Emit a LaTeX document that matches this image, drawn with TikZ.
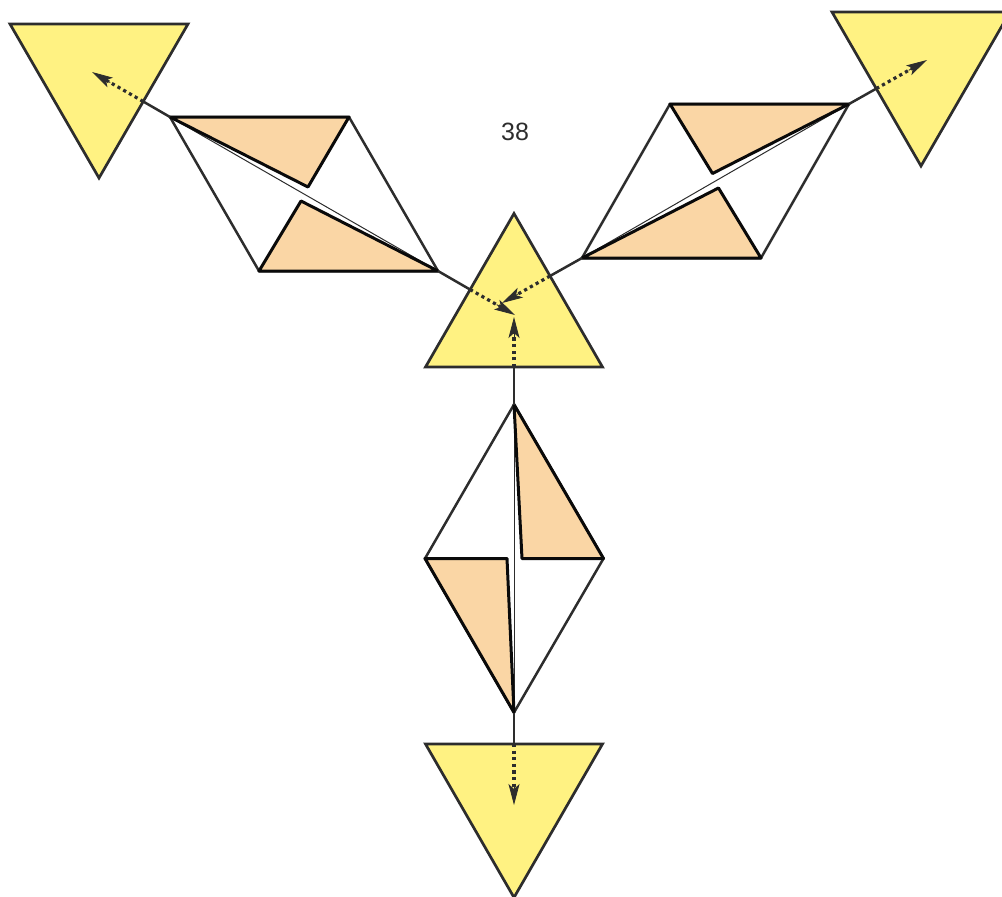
\documentclass[tikz,border=0pt]{standalone}
\usepackage{fontspec}
\setmainfont{Liberation Sans}
\usetikzlibrary{arrows.meta,calc}
\definecolor{triYellow}{RGB}{255,242,130}
\definecolor{kiteOrange}{RGB}{250,214,165}
\definecolor{inkGray}{RGB}{45,45,45}
\definecolor{inkDark}{RGB}{10,10,10}
\begin{document}
\begin{tikzpicture}[x=1pt,y=-1pt,
  tri/.style={draw=inkGray, fill=triYellow, line width=2.7pt, line join=miter},
  rhomb/.style={draw=inkGray, line width=2.5pt, line join=miter},
  piece/.style={draw=inkDark, fill=kiteOrange, line width=3pt, line join=round},
  diag/.style={draw=inkGray, line width=1pt},
  link/.style={draw=inkGray, line width=2.5pt},
  flow/.style={draw=inkGray, line width=3.2pt, dash pattern=on 3.2pt off 3.4pt, shorten >=14pt},
  head/.style={draw=inkGray, fill=inkGray, line width=0.8pt,
    -{Stealth[length=21pt,width=11pt,inset=5pt]}},
]
\useasboundingbox (0,0) rectangle (1002,897);
\clip (0,0) rectangle (1002,897);

% ---- triangle vertices
\coordinate (cA) at (514,213.5);
\coordinate (cL) at (425.5,367);
\coordinate (cR) at (602.5,367);
\coordinate (tlA) at (10,24);
\coordinate (tlB) at (188,24);
\coordinate (tlC) at (99,178);
\coordinate (trA) at (832,12);
\coordinate (trB) at (1010,12);
\coordinate (trC) at (921,166);
\coordinate (bA) at (425.5,744);
\coordinate (bB) at (602.5,744);
\coordinate (bC) at (514,897.5);

% ---- rhombus vertices
\coordinate (kbT) at (514,404.5);
\coordinate (kbR) at (603.5,558.5);
\coordinate (kbB) at (514,712.5);
\coordinate (kbL) at (425,558.5);
\coordinate (kbM1) at (522,558.5);
\coordinate (kbM2) at (507,558.5);

\coordinate (klA) at (170,117);
\coordinate (klB) at (349,117);
\coordinate (klC) at (438,271);
\coordinate (klD) at (259,271);
\coordinate (klM1) at (308,187);
\coordinate (klM2) at (301,201);

\coordinate (krA) at (670,104);
\coordinate (krB) at (849,104);
\coordinate (krC) at (761,258);
\coordinate (krD) at (582,258);
\coordinate (krM1) at (712.5,173.5);
\coordinate (krM2) at (718.5,188);

% ---- connector border points and arrow tips
\coordinate (eTL) at (143.2,101.5);
\coordinate (tTL) at (92,72);
\coordinate (eC1) at (470,289.5);
\coordinate (tC1) at (515,315);
\coordinate (eC2) at (514,367);
\coordinate (tC2) at (514,317);
\coordinate (eC3) at (550,276);
\coordinate (tC3) at (502,303);
\coordinate (eB) at (514,744);
\coordinate (tB) at (514,805);
\coordinate (eTR) at (876.3,88.6);
\coordinate (tTR) at (927,60);

% ---- yellow triangles
\path[tri] (cA) -- (cL) -- (cR) -- cycle;
\path[tri] (tlA) -- (tlB) -- (tlC) -- cycle;
\path[tri] (trA) -- (trB) -- (trC) -- cycle;
\path[tri] (bA) -- (bB) -- (bC) -- cycle;

% ---- rhombi
\path[rhomb] (kbT) -- (kbR) -- (kbB) -- (kbL) -- cycle;
\path[rhomb] (klA) -- (klB) -- (klC) -- (klD) -- cycle;
\path[rhomb] (krA) -- (krB) -- (krC) -- (krD) -- cycle;
\path[diag] (kbT) -- (kbB);
\path[diag] (klA) -- (klC);
\path[diag] (krD) -- (krB);

% ---- orange pieces
\path[piece] (kbT) -- (kbR) -- (kbM1) -- cycle;
\path[piece] (kbL) -- (kbM2) -- (kbB) -- cycle;
\path[piece] (klA) -- (klB) -- (klM1) -- cycle;
\path[piece] (klC) -- (klD) -- (klM2) -- cycle;
\path[piece] (krA) -- (krB) -- (krM1) -- cycle;
\path[piece] (krD) -- (krC) -- (krM2) -- cycle;

% ---- connectors
\path[link] (klA) -- (eTL);
\path[flow] (eTL) -- (tTL);
\path[head] ($(tTL)!21pt!(eTL)$) -- (tTL);
\path[link] (klC) -- (eC1);
\path[flow] (eC1) -- (tC1);
\path[head] ($(tC1)!21pt!(eC1)$) -- (tC1);
\path[link] (kbT) -- (eC2);
\path[flow] (eC2) -- (tC2);
\path[head] ($(tC2)!21pt!(eC2)$) -- (tC2);
\path[link] (krD) -- (eC3);
\path[flow] (eC3) -- (tC3);
\path[head] ($(tC3)!21pt!(eC3)$) -- (tC3);
\path[link] (kbB) -- (eB);
\path[flow] (eB) -- (tB);
\path[head] ($(tB)!21pt!(eB)$) -- (tB);
\path[link] (krB) -- (eTR);
\path[flow] (eTR) -- (tTR);
\path[head] ($(tTR)!21pt!(eTR)$) -- (tTR);

% ---- label
\node[text=inkGray, inner sep=0pt] (lbl) at (515,132) {\fontsize{25}{30}\selectfont 38};
\end{tikzpicture}
\end{document}
